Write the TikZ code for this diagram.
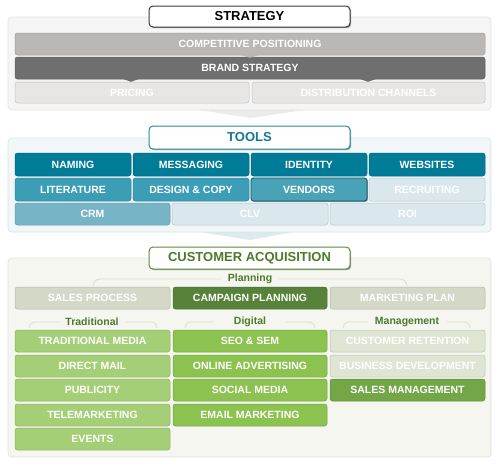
\documentclass[tikz,border=0pt]{standalone}
\usepackage{fontspec}
\setmainfont{Liberation Sans}
\usetikzlibrary{shadows}
\definecolor{sPanel}{HTML}{F5F5F5}
\definecolor{sPanelB}{HTML}{E2E2E2}
\definecolor{compPos}{HTML}{BBB7B5}
\definecolor{brand}{HTML}{6F6F6F}
\definecolor{sLight}{HTML}{E7E6E5}
\definecolor{sTitleB}{HTML}{3A3A3A}
\definecolor{tPanel}{HTML}{F1F6F8}
\definecolor{tPanelB}{HTML}{D6E4EA}
\definecolor{tTitleB}{HTML}{2C89A0}
\definecolor{tTitleT}{HTML}{187892}
\definecolor{tDark}{HTML}{007B98}
\definecolor{tMed}{HTML}{3C9DB6}
\definecolor{tVend}{HTML}{4AA2B7}
\definecolor{tLight}{HTML}{DAE8ED}
\definecolor{tCrm}{HTML}{77B4C6}
\definecolor{aPanel}{HTML}{F6F6F1}
\definecolor{aPanelB}{HTML}{E1E2D9}
\definecolor{aTitleB}{HTML}{5E8A3D}
\definecolor{aTitleT}{HTML}{4C7A2C}
\definecolor{pLight}{HTML}{D4D8C7}
\definecolor{campaign}{HTML}{56823A}
\definecolor{trad}{HTML}{A5CF76}
\definecolor{digi}{HTML}{8CC24F}
\definecolor{mLight}{HTML}{DEE6D3}
\definecolor{salesM}{HTML}{73A646}
\definecolor{brk}{HTML}{DCDCD4}
\newcommand\rbox[7]{%
  \pgfmathsetmacro\rbw{#4-#2}\pgfmathsetmacro\rbh{#5-#3}%
  \node[#6, minimum width=\rbw pt, minimum height=\rbh pt] (#1) at ({(#2+#4)/2},{(#3+#5)/2}) {#7};}
\begin{document}
\begin{tikzpicture}[x=1pt,y=-1pt,
  base/.style={rectangle, inner sep=0pt, outer sep=0pt},
  bx/.style={base, rounded corners=2.5pt, fill=#1, draw=#1!85!black, line width=0.5pt, text=white,
    font=\fontsize{10.5}{12}\selectfont\bfseries},
  panel/.style 2 args={base, rounded corners=3.5pt, fill=#1, draw=#2, line width=0.6pt},
  ttl/.style={base, rounded corners=4pt, fill=white, draw=#1, line width=1pt,
    drop shadow={shadow xshift=1.2pt, shadow yshift=-1.2pt, opacity=0.35, fill=black},
    font=\fontsize{13}{15}\selectfont\bfseries},
  lbl/.style={base, text=aTitleT, font=\fontsize{10.5}{12}\selectfont\bfseries},
  brkline/.style={draw=brk, line width=0.8pt}
]
\useasboundingbox (0,0) rectangle (500,466);

% ---------- STRATEGY ----------
\fill[sPanelB!70] (199,110) -- (250,118) -- (305,110) -- cycle;
\rbox{sp}{8}{17}{491}{110}{panel={sPanel}{sPanelB}}{}
\rbox{cp}{15}{33}{485}{55}{bx=compPos}{COMPETITIVE POSITIONING}
\rbox{bs}{15}{57}{485}{79}{bx=brand}{BRAND STRATEGY}
\rbox{pr}{15}{82}{249}{103}{bx=sLight}{PRICING}
\rbox{dc}{252}{82}{485}{103}{bx=sLight}{DISTRIBUTION CHANNELS}
\fill[compPos] (240,54.6) -- (250,57.8) -- (260,54.6) -- cycle;
\fill[brand] (122,78.6) -- (131,81.8) -- (140,78.6) -- cycle;
\fill[brand] (359,78.6) -- (368,81.8) -- (377,78.6) -- cycle;
\rbox{st}{149}{6}{350}{27}{ttl=sTitleB, text=black}{STRATEGY}

% ---------- TOOLS ----------
\fill[tPanelB!80] (200,232) -- (250,240) -- (293,232) -- cycle;
\rbox{tp}{8}{138}{491}{232}{panel={tPanel}{tPanelB}}{}
\rbox{naming}{15}{153}{131}{176}{bx=tDark}{NAMING}
\rbox{messaging}{133}{153}{249}{176}{bx=tDark}{MESSAGING}
\rbox{identity}{251}{153}{367}{176}{bx=tDark}{IDENTITY}
\rbox{websites}{369}{153}{485}{176}{bx=tDark}{WEBSITES}
\rbox{literature}{15}{178}{131}{201}{bx=tMed}{LITERATURE}
\rbox{design}{133}{178}{249}{201}{bx=tMed}{DESIGN \& COPY}
\rbox{recruiting}{369}{178}{485}{201}{bx=tLight}{RECRUITING}
\rbox{vendors}{251}{178}{367}{201}{bx=tVend, draw=tDark!70!black, line width=0.8pt,
  drop shadow={shadow xshift=0.8pt, shadow yshift=-0.8pt, opacity=0.4, fill=black}}{VENDORS}
\rbox{crm}{15}{203}{170}{225}{bx=tCrm}{CRM}
\rbox{clv}{172}{203}{328}{225}{bx=tLight}{CLV}
\rbox{roi}{330}{203}{485}{225}{bx=tLight}{ROI}
\rbox{tt}{149}{126}{350}{149}{ttl=tTitleB, text=tTitleT}{TOOLS}

% ---------- CUSTOMER ACQUISITION ----------
\rbox{ap}{8}{258}{491}{457}{panel={aPanel}{aPanelB}}{}
\rbox{at}{149}{247}{350}{269}{ttl=aTitleB, text=aTitleT}{CUSTOMER ACQUISITION}

\node[lbl] (planning) at (250,279) {Planning};
\draw[brkline] (93,286) to[out=90,in=180] (100,279) -- (221,279);
\draw[brkline] (279,279) -- (400,279) to[out=0,in=90] (407,286);

\rbox{salesproc}{15}{287}{170}{309}{bx=pLight}{SALES PROCESS}
\rbox{campplan}{173}{287}{327}{309}{bx=campaign}{CAMPAIGN PLANNING}
\rbox{mktplan}{330}{287}{485}{309}{bx=pLight}{MARKETING PLAN}

\node[lbl] (traditional) at (92,322) {Traditional};
\draw[brkline] (29,328) to[out=90,in=180] (35,322) -- (60,322);
\draw[brkline] (125,322) -- (151,322) to[out=0,in=90] (157,328);
\node[lbl] (digital) at (250,322) {Digital};
\draw[brkline] (185,328) to[out=90,in=180] (191,322) -- (214,322);
\draw[brkline] (286,322) -- (309,322) to[out=0,in=90] (315,328);
\node[lbl] (management) at (407,322) {Management};
\draw[brkline] (343,328) to[out=90,in=180] (349,322) -- (368,322);
\draw[brkline] (447,322) -- (464,322) to[out=0,in=90] (470,328);

\rbox{tradmedia}{15}{330}{170}{352}{bx=trad}{TRADITIONAL MEDIA}
\rbox{directmail}{15}{355}{170}{377}{bx=trad}{DIRECT MAIL}
\rbox{publicity}{15}{379}{170}{401}{bx=trad}{PUBLICITY}
\rbox{telemkt}{15}{404}{170}{426}{bx=trad}{TELEMARKETING}
\rbox{events}{15}{428}{170}{450}{bx=trad}{EVENTS}

\rbox{seo}{173}{330}{327}{352}{bx=digi}{SEO \& SEM}
\rbox{online}{173}{355}{327}{377}{bx=digi}{ONLINE ADVERTISING}
\rbox{social}{173}{379}{327}{401}{bx=digi}{SOCIAL MEDIA}
\rbox{email}{173}{404}{327}{426}{bx=digi}{EMAIL MARKETING}

\rbox{custret}{330}{330}{485}{352}{bx=mLight}{CUSTOMER RETENTION}
\rbox{busdev}{330}{355}{485}{377}{bx=mLight}{BUSINESS DEVELOPMENT}
\rbox{salesmgmt}{330}{379}{485}{401}{bx=salesM}{SALES MANAGEMENT}
\end{tikzpicture}
\end{document}
